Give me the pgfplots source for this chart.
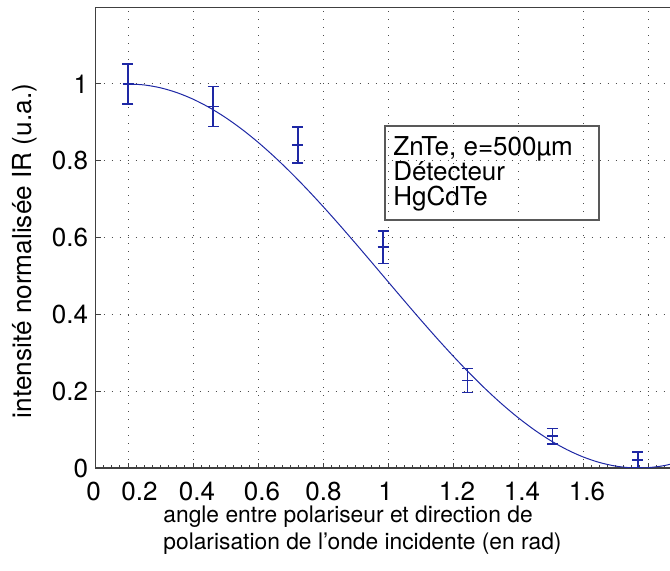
\documentclass[border=0pt]{standalone}
\usepackage{fontspec}
\setmainfont{TeX Gyre Heros}
\usepackage{pgfplots}
\usepackage{pgfplotstable}
\pgfplotsset{compat=1.18}

\definecolor{mblue}{RGB}{30,40,165}

% measured IR intensity with its uncertainty
\pgfplotstableread{
x      y      e
0.200  1.000  0.052
0.462  0.941  0.052
0.723  0.841  0.047
0.985  0.575  0.042
1.245  0.228  0.031
1.506  0.083  0.020
1.769  0.021  0.021
}\mesures

\begin{document}
\begin{tikzpicture}[x=1pt,y=1pt]
\useasboundingbox (0,0) rectangle (335,285.5);
\clip (0,0) rectangle (335,285.5);
\begin{axis}[
  at={(47.75pt,51.5pt)}, anchor=south west,
  scale only axis, width=292.5pt, height=230.4pt,
  xmin=0.1, xmax=1.9, ymin=0, ymax=1.2,
  axis line style={black!75, line width=0.6pt},
  tick pos=left, tick align=inside,
  major tick length=2.5pt, minor tick length=1.4pt,
  every tick/.style={black!75, line width=0.5pt},
  xtick={0.2,0.4,0.6,0.8,1.0,1.2,1.4,1.6,1.8},
  xticklabels={{},{},{},{},{},{},{},{},{}},
  minor xtick={0.1,0.125,...,1.9},
  ytick={0,0.2,0.4,0.6,0.8,1},
  yticklabels={0,0.2,0.4,0.6,0.8,1},
  extra x ticks={0.1,0.2354,0.4123,0.6123,0.8015,0.9923,1.2123,1.4123,1.6123},
  extra x tick labels={{\hspace*{-2pt}0},0.2,0.4,0.6,0.8,1,1.2,1.4,1.6},
  extra x tick style={major tick length=0pt, grid=none},
  xmajorgrids, ymajorgrids,
  grid style={black!70, line width=0.5pt, dash pattern=on 0.5pt off 3.5pt},
  tick label style={font=\fontsize{13}{15.5}\selectfont},
  xticklabel style={anchor=north, inner sep=0pt, yshift=-6.6pt},
  yticklabel style={anchor=east, inner sep=0pt, xshift=-3.5pt},
  clip=true,
]
% fitted cos^2 law
\addplot[mblue, line width=0.5pt, smooth] coordinates {
(0.20,1.000000) (0.25,0.997502) (0.30,0.990033) (0.35,0.977668)
(0.40,0.960530) (0.45,0.938791) (0.50,0.912668) (0.55,0.882421)
(0.60,0.848353) (0.65,0.810805) (0.70,0.770151) (0.75,0.726798)
(0.80,0.681179) (0.85,0.633749) (0.90,0.584984) (0.95,0.535369)
(1.00,0.485400) (1.05,0.435578) (1.10,0.386399) (1.15,0.338355)
(1.20,0.291927) (1.25,0.247577) (1.30,0.205749) (1.35,0.166862)
(1.40,0.131303) (1.45,0.099428) (1.50,0.071556) (1.55,0.047964)
(1.60,0.028889) (1.65,0.014521) (1.70,0.005004) (1.75,0.000433)
(1.80,0.000853) (1.85,0.006260) (1.90,0.016601)
};
% data with error bars
\addplot[mblue, line width=0.75pt, only marks, mark=+, mark size=2.75pt,
  error bars/.cd, y dir=both, y explicit,
  error bar style={mblue, line width=0.75pt},
  error mark options={mblue, line width=0.75pt, mark size=2.75pt, rotate=90}]
  table[x=x, y=y, y error=e] {\mesures};
\end{axis}
% legend box
\draw[black!65, line width=0.6pt] (192.5,175.5) rectangle (299.5,222.5);
\begin{scope}[every node/.style={anchor=base west, inner sep=0pt, font=\fontsize{13}{15.5}\selectfont}]
\node at (196.5,207.5) {ZnTe, e=500µm};
\node at (196.5,195) {Détecteur};
\node at (196.5,182.5) {HgCdTe};
\end{scope}
% axis titles
\node[rotate=90, inner sep=0pt, font=\fontsize{13.1}{15.5}\selectfont] at (12.5,160) {intensité normalisée IR (u.a.)};
\begin{scope}[every node/.style={anchor=base west, inner sep=0pt, font=\fontsize{11.4}{14}\selectfont}]
\node at (81.5,24.3) {angle entre polariseur et direction de};
\node at (81.5,10.6) {polarisation de l’onde incidente (en rad)};
\end{scope}
\end{tikzpicture}
\end{document}
